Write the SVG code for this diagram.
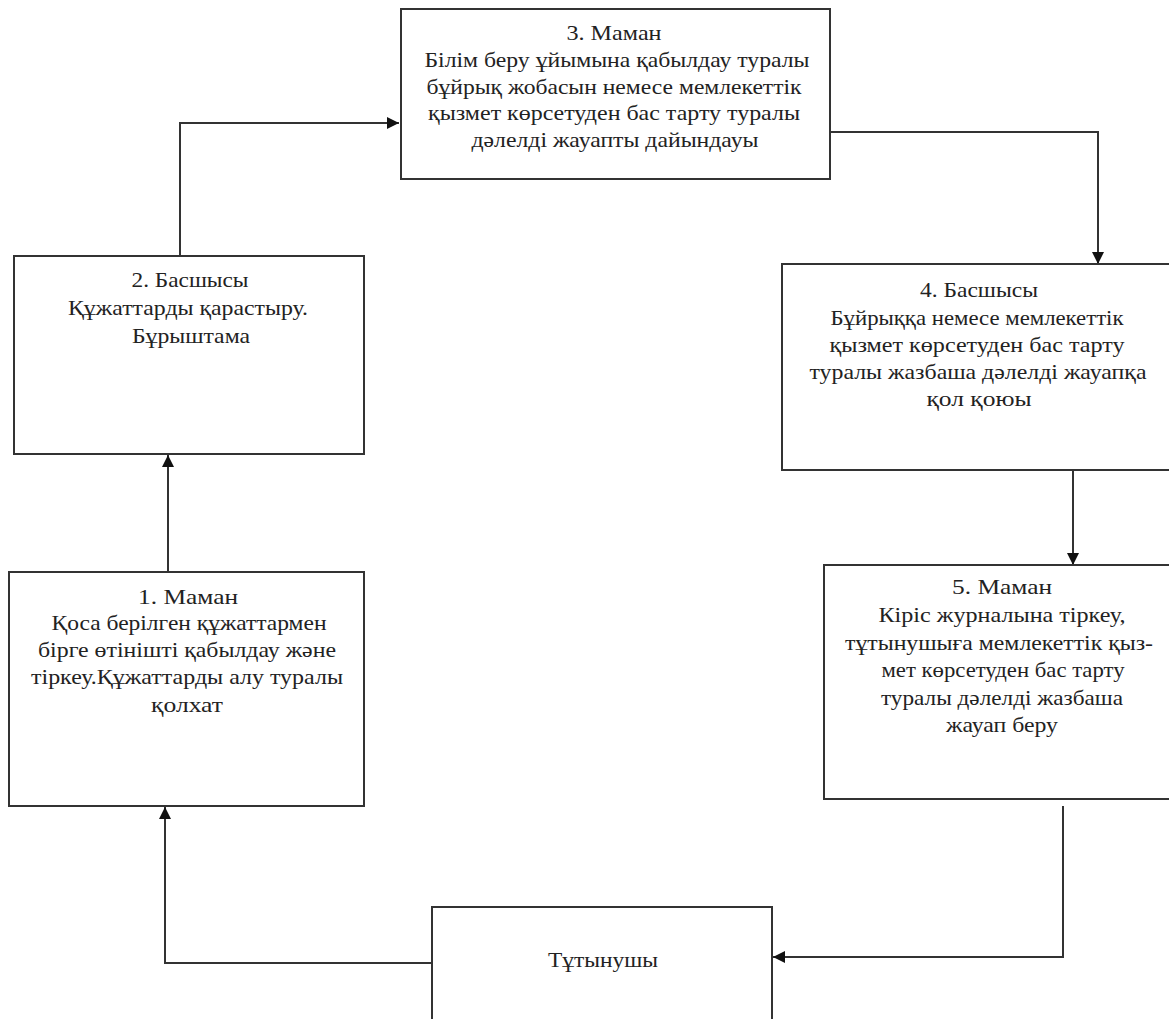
<svg xmlns="http://www.w3.org/2000/svg" width="1169" height="1019" viewBox="0 0 1169 1019">
<style>
.box{fill:#fff;stroke:#333;stroke-width:2}
.t{font-family:"Liberation Serif","DejaVu Serif","Times New Roman",serif;font-size:21px;fill:#222;text-anchor:middle}
.c{fill:none;stroke:#333;stroke-width:2}
</style>
<defs>
<marker id="ah" viewBox="0 0 10 10" refX="10" refY="5" markerWidth="6" markerHeight="6" orient="auto" markerUnits="strokeWidth">
<path d="M0,0 L10,5 L0,10 z" fill="#111"/>
</marker>
</defs>
<rect width="1169" height="1019" fill="#fff"/>
<g id="connectors">
<path class="c" d="M168,572 V455" marker-end="url(#ah)"/>
<path class="c" d="M180,255 V123 H399" marker-end="url(#ah)"/>
<path class="c" d="M830,132 H1098 V264" marker-end="url(#ah)"/>
<path class="c" d="M1073,470 V565" marker-end="url(#ah)"/>
<path class="c" d="M1063,806 V957 H773" marker-end="url(#ah)"/>
<path class="c" d="M432,963 H165 V807" marker-end="url(#ah)"/>
</g>
<g id="node3">
<rect class="box" x="401" y="9" width="429" height="170"/>
<text class="t" x="614" y="40" textLength="95" lengthAdjust="spacingAndGlyphs">3. Маман</text>
<text class="t" x="617" y="67" textLength="385" lengthAdjust="spacingAndGlyphs">Білім беру ұйымына қабылдау туралы</text>
<text class="t" x="614" y="94" textLength="375" lengthAdjust="spacingAndGlyphs">бұйрық жобасын немесе мемлекеттік</text>
<text class="t" x="614" y="120" textLength="372" lengthAdjust="spacingAndGlyphs">қызмет көрсетуден бас тарту туралы</text>
<text class="t" x="615" y="147" textLength="287" lengthAdjust="spacingAndGlyphs">дәлелді жауапты дайындауы</text>
</g>
<g id="node2">
<rect class="box" x="14" y="256" width="350" height="198"/>
<text class="t" x="190" y="287" textLength="117" lengthAdjust="spacingAndGlyphs">2. Басшысы</text>
<text class="t" x="188" y="315" textLength="240" lengthAdjust="spacingAndGlyphs">Құжаттарды қарастыру.</text>
<text class="t" x="191" y="343" textLength="118" lengthAdjust="spacingAndGlyphs">Бұрыштама</text>
</g>
<g id="node4">
<rect class="box" x="782" y="264" width="400" height="206"/>
<text class="t" x="979" y="297" textLength="118" lengthAdjust="spacingAndGlyphs">4. Басшысы</text>
<text class="t" x="977" y="325" textLength="293" lengthAdjust="spacingAndGlyphs">Бұйрыққа немесе мемлекеттік</text>
<text class="t" x="977" y="352" textLength="295" lengthAdjust="spacingAndGlyphs">қызмет көрсетуден бас тарту</text>
<text class="t" x="978" y="379" textLength="337" lengthAdjust="spacingAndGlyphs">туралы жазбаша дәлелді жауапқа</text>
<text class="t" x="979" y="406" textLength="105" lengthAdjust="spacingAndGlyphs">қол қоюы</text>
</g>
<g id="node1">
<rect class="box" x="9" y="572" width="355" height="234"/>
<text class="t" x="188" y="604" textLength="100" lengthAdjust="spacingAndGlyphs">1.  Маман</text>
<text class="t" x="189" y="630" textLength="275" lengthAdjust="spacingAndGlyphs">Қоса берілген құжаттармен</text>
<text class="t" x="187" y="657" textLength="298" lengthAdjust="spacingAndGlyphs">бірге өтінішті  қабылдау және</text>
<text class="t" x="187" y="684" textLength="312" lengthAdjust="spacingAndGlyphs">тіркеу.Құжаттарды  алу туралы</text>
<text class="t" x="187" y="712" textLength="72" lengthAdjust="spacingAndGlyphs">қолхат</text>
</g>
<g id="node5">
<rect class="box" x="824" y="565" width="360" height="234"/>
<text class="t" x="1002" y="594" textLength="100" lengthAdjust="spacingAndGlyphs">5.  Маман</text>
<text class="t" x="1002" y="622" textLength="247" lengthAdjust="spacingAndGlyphs">Кіріс журналына тіркеу,</text>
<text class="t" x="999" y="650" textLength="308" lengthAdjust="spacingAndGlyphs">тұтынушыға мемлекеттік қыз-</text>
<text class="t" x="1003" y="677" textLength="243" lengthAdjust="spacingAndGlyphs">мет көрсетуден бас тарту</text>
<text class="t" x="1002" y="705" textLength="242" lengthAdjust="spacingAndGlyphs">туралы дәлелді жазбаша</text>
<text class="t" x="1002" y="732" textLength="112" lengthAdjust="spacingAndGlyphs">жауап беру</text>
</g>
<g id="node6">
<rect class="box" x="432" y="907" width="340" height="130"/>
<text class="t" x="603" y="967" textLength="110" lengthAdjust="spacingAndGlyphs">Тұтынушы</text>
</g>
</svg>
